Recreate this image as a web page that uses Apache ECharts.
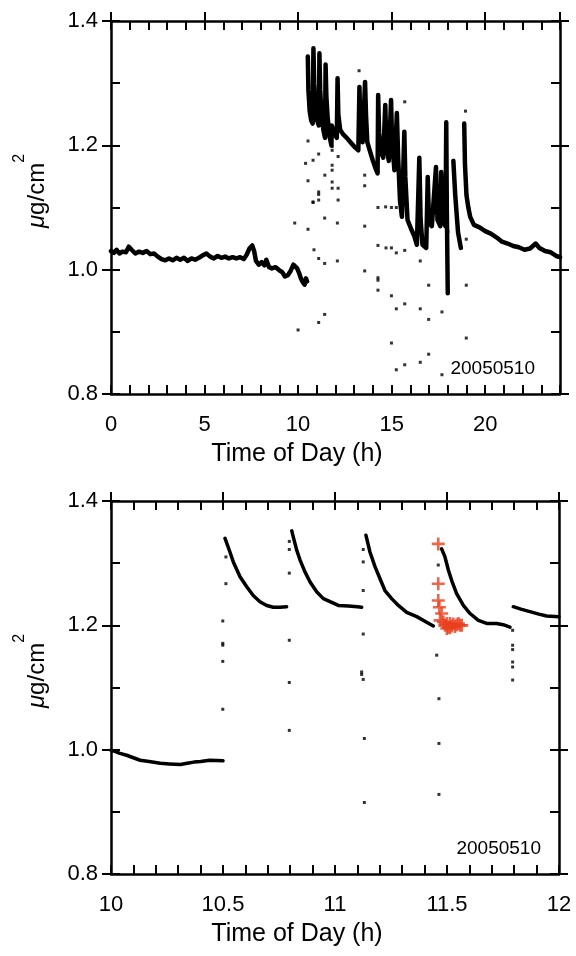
<!DOCTYPE html>
<html><head><meta charset="utf-8">
<script src="https://cdn.jsdelivr.net/npm/echarts@6/dist/echarts.min.js"></script>
<style>html,body{margin:0;padding:0;background:#fff}#c{width:576px;height:956px}</style>
</head><body><div id="c"></div>
<script>
// ---------------- DATA ----------------
// Top panel: full day (hours, µg/cm²). null marks a gap in the trace.
const topTrace = [
[0.0,1.030],[0.15,1.027],[0.3,1.032],[0.45,1.026],[0.6,1.029],[0.8,1.028],[0.95,1.037],[1.1,1.032],[1.3,1.026],[1.5,1.029],
[1.7,1.027],[1.9,1.030],[2.1,1.025],[2.3,1.026],[2.5,1.021],[2.7,1.017],[2.9,1.015],[3.1,1.018],[3.3,1.015],[3.5,1.019],
[3.7,1.016],[3.9,1.019],[4.1,1.014],[4.3,1.018],[4.5,1.016],[4.7,1.019],[4.9,1.023],[5.1,1.026],[5.3,1.021],[5.5,1.018],
[5.7,1.022],[5.9,1.019],[6.1,1.021],[6.3,1.018],[6.5,1.020],[6.7,1.018],[6.9,1.020],[7.1,1.017],[7.25,1.024],[7.4,1.034],
[7.55,1.039],[7.65,1.030],[7.75,1.014],[7.9,1.008],[8.05,1.012],[8.2,1.007],[8.3,1.016],[8.45,1.004],[8.6,1.002],[8.8,1.004],
[9.0,0.999],[9.15,0.996],[9.3,0.989],[9.45,0.991],[9.6,0.998],[9.75,1.008],[9.85,1.010],[9.95,1.002],[10.05,0.995],[10.15,0.986],
[10.25,0.980],[10.35,0.976],[10.42,0.986],[10.48,0.981],
[10.50,null],
[10.52,1.343],[10.55,1.290],[10.62,1.255],[10.70,1.240],[10.78,1.235],[10.82,1.356],[10.86,1.300],[10.93,1.260],[11.02,1.240],[11.11,1.232],
[11.14,1.348],[11.18,1.290],[11.25,1.250],[11.35,1.225],[11.44,1.212],[11.47,1.330],[11.51,1.280],[11.58,1.245],[11.68,1.215],[11.78,1.200],
[11.80,1.232],[11.95,1.218],[12.07,1.212],[12.11,1.308],[12.15,1.250],[12.25,1.225],[12.40,1.218],[12.60,1.212],[12.80,1.205],[13.00,1.198],
[13.22,1.192],[13.28,1.294],[13.32,1.240],[13.45,1.205],[13.58,1.302],[13.63,1.250],[13.70,1.205],[13.85,1.190],[14.00,1.175],[14.15,1.162],
[14.25,1.155],[14.28,1.281],[14.33,1.220],[14.42,1.190],[14.55,1.180],[14.66,1.265],[14.72,1.200],[14.85,1.175],[14.97,1.273],[15.02,1.210],
[15.15,1.160],[15.28,1.252],[15.35,1.180],[15.45,1.110],[15.55,1.085],[15.68,1.222],[15.73,1.150],[15.85,1.080],[16.05,1.065],[16.20,1.055],
[16.35,1.040],[16.48,1.180],[16.55,1.080],[16.65,1.040],[16.85,1.035],[16.93,1.149],[17.00,1.075],[17.15,1.070],[17.37,1.165],[17.45,1.080],
[17.60,1.070],[17.65,1.157],[17.72,1.080],[17.88,1.070],[17.92,1.237],[17.95,1.100],[18.00,0.962],
[18.10,null],
[18.30,1.175],[18.40,1.120],[18.55,1.060],[18.70,1.035],
[18.80,null],
[18.88,1.235],[18.92,1.170],[19.00,1.120],[19.10,1.100],[19.20,1.085],[19.40,1.072],[19.70,1.068],[20.00,1.062],[20.30,1.058],[20.60,1.052],
[20.90,1.045],[21.20,1.042],[21.50,1.038],[21.80,1.036],[22.10,1.032],[22.40,1.034],[22.70,1.042],[22.90,1.035],[23.20,1.030],[23.50,1.028],
[23.80,1.022],[24.00,1.020]
];
// Top panel: isolated points (transients during spot changes)
const topStray = [
[9.82,1.075],[10.53,1.065],[10.80,1.109],[11.10,1.112],[11.42,1.083],[12.10,1.075],[10.85,1.032],[11.10,1.018],[11.42,1.010],[12.10,1.014],
[10.00,0.903],[11.10,0.915],[11.42,0.928],[10.53,1.207],[10.80,1.176],[11.10,1.186],[10.40,1.171],[10.53,1.143],[11.43,1.152],[11.82,1.198],
[11.82,1.192],[11.82,1.168],[11.82,1.160],[11.82,1.141],[11.82,1.131],[12.14,1.182],[11.10,1.125],[11.10,1.121],[10.80,1.108],[12.14,1.131],
[12.14,1.112],[13.56,1.070],[13.56,0.998],[13.56,1.152],[13.56,1.135],[13.26,1.320],[14.27,1.100],[14.99,1.100],[15.25,1.100],[14.68,1.101],
[14.27,1.039],[14.70,1.035],[14.99,1.035],[15.25,1.027],[15.70,1.031],[14.27,0.987],[14.27,0.983],[14.27,0.967],[14.99,0.958],[15.25,0.937],
[15.70,0.945],[16.53,0.937],[16.98,0.975],[16.98,0.920],[16.98,0.864],[17.69,0.932],[17.69,0.831],[16.53,0.851],[15.70,0.847],[15.25,0.839],
[14.99,0.882],[18.99,0.975],[18.99,0.890],[18.99,1.049],[16.53,1.014],[18.01,1.061],[15.70,1.270],[18.95,1.255]
];
// Bottom panel: 10–12 h detail
const bottomTrace = [
[10.00,0.999],[10.02,0.997],[10.04,0.994],[10.07,0.991],[10.10,0.987],[10.13,0.983],[10.17,0.981],[10.22,0.978],[10.26,0.977],[10.31,0.976],
[10.34,0.978],[10.37,0.980],[10.40,0.981],[10.44,0.983],[10.50,0.982],
[10.505,null],
[10.509,1.340],[10.531,1.318],[10.546,1.302],[10.576,1.278],[10.606,1.262],[10.635,1.248],[10.665,1.238],[10.695,1.232],[10.725,1.229],[10.754,1.229],[10.784,1.230],
[10.80,null],
[10.807,1.352],[10.814,1.342],[10.829,1.321],[10.844,1.305],[10.866,1.286],[10.888,1.270],[10.918,1.254],[10.948,1.243],[10.978,1.238],[11.015,1.232],
[11.06,1.231],[11.10,1.230],[11.119,1.229],
[11.13,null],
[11.138,1.345],[11.156,1.318],[11.179,1.294],[11.201,1.275],[11.223,1.256],[11.253,1.243],[11.283,1.232],[11.320,1.221],[11.365,1.214],[11.409,1.205],[11.439,1.199],
[11.46,null],
[11.476,1.323],[11.491,1.310],[11.506,1.289],[11.521,1.272],[11.543,1.251],[11.573,1.232],[11.603,1.219],[11.640,1.208],[11.677,1.203],[11.722,1.203],
[11.751,1.201],[11.781,1.197],
[11.79,null],
[11.796,1.230],[11.83,1.226],[11.87,1.222],[11.91,1.218],[11.945,1.215],[12.00,1.214]
];
const bottomStray = [
[10.513,1.310],[10.513,1.267],[10.499,1.207],[10.499,1.171],[10.499,1.168],[10.499,1.142],[10.499,1.065],
[10.796,1.335],[10.796,1.322],[10.796,1.284],[10.796,1.176],[10.796,1.108],[10.796,1.031],
[11.126,1.322],[11.126,1.302],[11.126,1.256],[11.126,1.186],[11.119,1.125],[11.119,1.121],[11.126,1.113],[11.131,1.018],[11.131,0.915],
[11.461,1.297],[11.454,1.152],[11.464,1.082],[11.464,1.010],[11.464,0.928],
[11.793,1.192],[11.793,1.168],[11.793,1.161],[11.793,1.141],[11.793,1.133],[11.793,1.112]
];
// Red "+" markers
const markedPoints = [
[11.461,1.331],[11.461,1.267],[11.461,1.240],[11.466,1.229],[11.476,1.219],[11.469,1.208],[11.484,1.2055],[11.491,1.200],[11.499,1.203],[11.506,1.197],
[11.513,1.203],[11.521,1.199],[11.528,1.202],[11.536,1.198],[11.543,1.201],[11.551,1.203],[11.558,1.200],[11.566,1.200],[11.499,1.195],[11.513,1.196]
];
// Tick labels
const topXTicks = [0,5,10,15,20];
const bottomXTicks = [10,10.5,11,11.5,12];
const yTicks = [0.8,1.0,1.2,1.4];
const xTitle = 'Time of Day (h)';
const dateTag = '20050510';

// ---------------- CHART ----------------
const FONT = '"Liberation Sans", Arial, Helvetica, sans-serif';
const BLACK = '#000';
function toSeriesData(arr){ return arr.map(p => [p[0], p[1] === null ? '-' : p[1]]); }
function tickLabel(list){ return v => { for (const t of list) if (Math.abs(v - t) < 1e-6) return String(t); return ''; }; }

function xAxesFor(g, min, max, major, minor, labels){
  const base = {gridIndex:g, type:'value', min, max, splitLine:{show:false}};
  const line = {show:true, onZero:false, lineStyle:{color:BLACK, width:2.5}};
  const tick = (inside) => ({show:true, inside, length:9, lineStyle:{color:BLACK, width:2}});
  return [
    Object.assign({}, base, {position:'bottom', interval:major, axisLine:line, axisTick:tick(true),
      axisLabel:{show:true, margin:20, color:BLACK, fontSize:22, fontFamily:FONT, formatter:tickLabel(labels)}}),
    Object.assign({}, base, {position:'bottom', interval:minor, axisLine:{show:false,onZero:false}, axisTick:tick(true), axisLabel:{show:false}}),
    Object.assign({}, base, {position:'top', interval:minor, axisLine:line, axisTick:tick(true), axisLabel:{show:false}}),
    Object.assign({}, base, {position:'top', interval:major, axisLine:{show:false,onZero:false}, axisTick:tick(false), axisLabel:{show:false}})
  ];
}
function yAxesFor(g){
  const base = {gridIndex:g, type:'value', min:0.8, max:1.4, splitLine:{show:false}};
  const line = {show:true, onZero:false, lineStyle:{color:BLACK, width:2.5}};
  const tick = (inside) => ({show:true, inside, length:9, lineStyle:{color:BLACK, width:2}});
  return [
    Object.assign({}, base, {position:'left', interval:0.2, axisLine:line, axisTick:tick(false),
      axisLabel:{show:true, margin:13, color:BLACK, fontSize:22, fontFamily:FONT,
        formatter: v => { const m = yTicks.find(t => Math.abs(t - v) < 1e-6); return m === undefined ? '' : m.toFixed(1); }}}),
    Object.assign({}, base, {position:'left', interval:0.1, axisLine:{show:false,onZero:false}, axisTick:tick(true), axisLabel:{show:false}}),
    Object.assign({}, base, {position:'right', interval:0.1, axisLine:line, axisTick:tick(true), axisLabel:{show:false}}),
    Object.assign({}, base, {position:'right', interval:0.2, axisLine:{show:false,onZero:false}, axisTick:tick(false), axisLabel:{show:false}})
  ];
}
const plus = 'path://M4,0H6V4H10V6H6V10H4V6H0V4H4Z';

function yName(y){
  return {type:'text', x:37, y, rotation:Math.PI/2, silent:true,
    style:{text:'{i|μ}{n|g/cm}{s|2}', fill:BLACK, align:'center', verticalAlign:'middle',
      textAlign:'center', textVerticalAlign:'middle',
      rich:{i:{fontStyle:'italic', fontSize:24, lineHeight:50, fontFamily:FONT, fill:BLACK},
            n:{fontSize:24, lineHeight:50, fontFamily:FONT, fill:BLACK},
            s:{fontSize:16, lineHeight:16, verticalAlign:'top', fontFamily:FONT, fill:BLACK}}}};
}
function plainText(x, y, text, size, align){
  return {type:'text', x, y, silent:true,
    style:{text, fill:BLACK, font:size + 'px ' + FONT, textAlign:align, textVerticalAlign:'middle', align, verticalAlign:'middle'}};
}

const option = {
  animation:false,
  backgroundColor:'#fff',
  grid:[
    {left:111, top:21, width:449, height:373, containLabel:false, outerBoundsMode:'none'},
    {left:111, top:501, width:448, height:373, containLabel:false, outerBoundsMode:'none'}
  ],
  xAxis:[].concat(xAxesFor(0,0,24,5,1,topXTicks), xAxesFor(1,10,12,0.5,0.1,bottomXTicks)),
  yAxis:[].concat(yAxesFor(0), yAxesFor(1)),
  series:[
    {type:'line', xAxisIndex:0, yAxisIndex:0, data:toSeriesData(topTrace), showSymbol:false, symbol:'none',
      connectNulls:false, lineStyle:{color:BLACK, width:4.5, join:'round', cap:'round'}, silent:true},
    {type:'scatter', xAxisIndex:0, yAxisIndex:0, data:topStray, symbol:'rect', symbolSize:3, itemStyle:{color:BLACK}, silent:true},
    {type:'line', xAxisIndex:4, yAxisIndex:4, data:toSeriesData(bottomTrace), showSymbol:false, symbol:'none',
      connectNulls:false, lineStyle:{color:BLACK, width:3.5, join:'round', cap:'round'}, silent:true},
    {type:'scatter', xAxisIndex:4, yAxisIndex:4, data:bottomStray, symbol:'rect', symbolSize:3, itemStyle:{color:BLACK}, silent:true},
    {type:'scatter', xAxisIndex:4, yAxisIndex:4, data:markedPoints, symbol:plus, symbolSize:13, itemStyle:{color:'#e8401e'}, silent:true, z:5}
  ],
  graphic:[
    yName(191), yName(671),
    plainText(297, 454.6, xTitle, 25, 'center'),
    plainText(297, 934.6, xTitle, 25, 'center'),
    plainText(535, 368.4, dateTag, 19, 'right'),
    plainText(541, 848.4, dateTag, 19, 'right')
  ]
};
const chart = echarts.init(document.getElementById('c'), null, {renderer:'canvas'});
chart.setOption(option);
</script></body></html>
